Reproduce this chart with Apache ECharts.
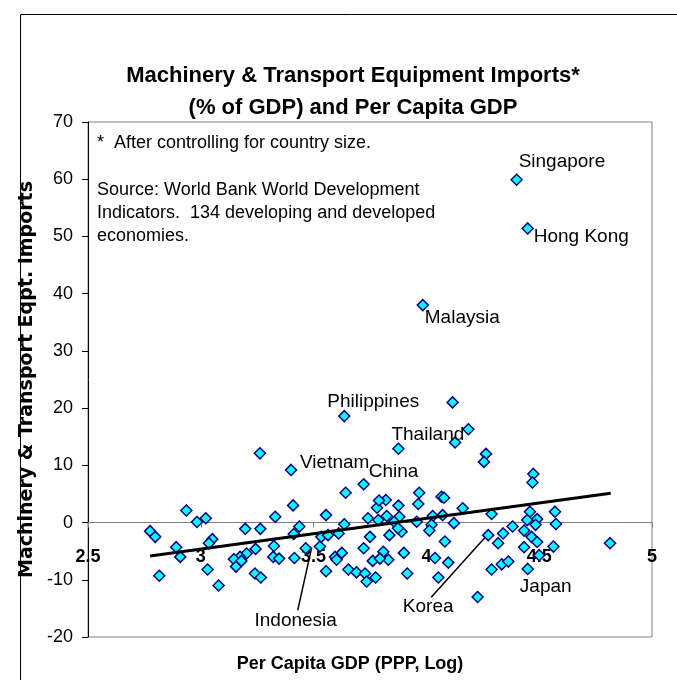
<!DOCTYPE html>
<html><head><meta charset="utf-8">
<script src="https://cdn.jsdelivr.net/npm/echarts@6/dist/echarts.min.js"></script>
<style>html,body{margin:0;padding:0;background:#fff}#c{width:677px;height:680px}</style>
</head><body><div id="c"></div>
<script>
// ---- Data ----
const countryNames = ['Singapore','Hong Kong','Malaysia','Philippines','Thailand','Vietnam','China','Indonesia','Korea','Japan'];
const countryGdpLog = [4.40, 4.449, 3.984, 3.636, 3.876, 3.40, 3.722, 3.465, 4.274, 4.449];
const countryImports = [59.9, 51.4, 38.0, 18.6, 12.9, 9.2, 6.7, -4.5, -2.2, -8.1];

const otherGdpLog = [
 3.262,3.642,2.936,2.983,3.022,3.33,3.409,3.555,3.636,3.741,3.781,2.775,2.798,3.197,3.264,3.437,3.412,3.051,3.036,2.891,
 2.909,3.324,3.243,3.203,3.174,3.147,3.156,3.18,3.321,3.347,3.415,3.528,3.534,3.564,3.611,3.625,3.595,3.602,3.555,3.654,
 3.69,3.728,3.735,3.775,3.722,3.75,3.762,2.816,3.03,3.079,3.24,3.266,4.116,4.186,4.127,4.264,4.255,3.82,3.876,3.968,
 3.964,4.067,4.078,4.161,3.824,3.88,3.957,4.028,4.072,4.023,4.013,4.122,4.289,3.836,3.89,4.082,4.318,4.34,4.382,3.809,
 3.831,3.9,4.038,4.097,3.915,4.053,4.289,4.334,4.363,4.227,4.474,4.47,4.459,4.447,4.491,4.57,4.574,4.484,4.433,4.466,
 4.491,4.433,4.563,4.5,4.814,3.79,3.787,3.857,3.874,3.794
];
const otherImports = [
 12.1,5.2,2.1,0.1,0.75,1.0,3.0,1.3,-0.3,0.75,2.6,-1.5,-2.5,-1.1,-1.1,-0.7,-2.0,-2.9,-3.6,-4.3,
 -6.0,-4.1,-4.6,-5.4,-6.0,-6.4,-7.7,-6.7,-6.0,-6.3,-6.2,-4.2,-2.5,-2.2,-1.9,-5.3,-6.0,-6.5,-8.5,-8.2,
 -8.7,-8.9,-10.3,-9.6,-4.5,-2.5,-6.7,-9.3,-8.2,-11.0,-8.9,-9.6,21.0,16.3,14.0,12.0,10.6,3.95,2.96,5.2,
 3.25,4.5,4.35,2.5,1.15,1.0,0.15,1.15,1.3,-0.4,-1.4,-0.1,1.5,-2.2,-1.6,-3.3,-3.6,-1.9,-0.7,-5.1,
 -6.5,-5.3,-6.2,-7.0,-8.9,-9.6,-8.2,-7.3,-6.8,-13.0,8.5,7.0,1.9,0.45,0.6,1.9,-0.25,-0.4,-1.4,-2.5,
 -3.4,-4.3,-4.2,-5.7,-3.6,3.86,0.45,0.15,-1.0,-6.3
];
const trendGdpLog = [2.775, 4.817];
const trendImports = [-5.85, 5.12];
const xTicks = {min: 2.5, max: 5, step: 0.5};
const yTicks = {min: -20, max: 70, step: 10};

// ---- Styles ----
const FONT = '"Liberation Sans", Arial, sans-serif';
const labelStyle = {
  'Singapore':   {offset:[2,-18], align:'left'},
  'Hong Kong':   {offset:[6,8], align:'left'},
  'Malaysia':    {offset:[2,13], align:'left'},
  'Philippines': {offset:[29,-14], align:'center'},
  'Thailand':    {offset:[-7,-14], align:'left'},
  'Vietnam':     {offset:[9,-7], align:'left'},
  'China':       {offset:[5,-12], align:'left'},
  'Indonesia':   {offset:[-10,72], align:'center'},
  'Korea':       {offset:[-60,72], align:'center'},
  'Japan':       {offset:[18,18], align:'center'}
};
const leaderStyle = {
  'Indonesia': {from:[6,-1], to:[-8,62]},
  'Korea':     {from:[-3,2], to:[-57,62]}
};

const pointData = [];
countryNames.forEach((n,i)=>{
  const ls = labelStyle[n];
  pointData.push({name:n, value:[countryGdpLog[i], countryImports[i]],
    label:{show:true, formatter:n, position:'inside', offset:ls.offset, align:ls.align, verticalAlign:'middle',
      fontFamily:FONT, fontSize:19, color:'#000'}});
});
otherGdpLog.forEach((x,i)=>pointData.push({value:[x, otherImports[i]]}));

const chart = echarts.init(document.getElementById('c'));
const staticGraphics = [
  {type:'rect', shape:{x:20.5, y:14.5, width:700, height:700}, style:{fill:'none', stroke:'#000', lineWidth:1}, silent:true},
  {type:'text', x:97, y:143, style:{text:'*  After controlling for country size.', font:'18px '+FONT, fill:'#000', verticalAlign:'middle'}},
  {type:'text', x:97, y:178.5, style:{text:'Source: World Bank World Development\nIndicators.  134 developing and developed\neconomies.', font:'18px '+FONT, fill:'#000', lineHeight:23, verticalAlign:'top'}}
];
chart.setOption({
  animation:false,
  title:{text:'Machinery & Transport Equipment Imports*\n(% of GDP) and Per Capita GDP', left:348, top:55, textAlign:'center',
    textStyle:{fontFamily:FONT, fontSize:22, fontWeight:'bold', color:'#000', lineHeight:32}},
  grid:{left:88, top:122, right:25, bottom:43, show:true, borderColor:'#808080', borderWidth:1, outerBoundsMode:'none', containLabel:false},
  xAxis:{type:'value', min:xTicks.min, max:xTicks.max, interval:xTicks.step,
    name:'Per Capita GDP (PPP, Log)', nameLocation:'middle', nameGap:18,
    nameTextStyle:{fontFamily:FONT, fontSize:18, fontWeight:'bold', color:'#000', padding:[0,40,0,0]},
    axisLine:{onZero:true, lineStyle:{color:'#808080', width:1}},
    axisTick:{show:true, length:5, lineStyle:{color:'#808080'}},
    axisLabel:{fontFamily:FONT, fontSize:18, fontWeight:'bold', color:'#000', margin:-89, showMinLabel:true, showMaxLabel:true},
    splitLine:{show:false}},
  yAxis:{type:'value', min:yTicks.min, max:yTicks.max, interval:yTicks.step,
    name:'Machinery & Transport Eqpt. Imports', nameLocation:'middle', nameGap:51, nameRotate:90,
    nameTextStyle:{fontFamily:'"DejaVu Sans", sans-serif', fontSize:19, fontWeight:'bold', color:'#000'},
    axisLine:{show:true, onZero:false, lineStyle:{color:'#000', width:1}},
    axisTick:{show:true, length:6, lineStyle:{color:'#000'}},
    axisLabel:{fontFamily:FONT, fontSize:18, color:'#000', margin:15},
    splitLine:{show:false}},
  series:[
    {type:'scatter', symbol:'diamond', symbolSize:11, z:2,
      itemStyle:{color:'#00FFFF', borderColor:'#000080', borderWidth:1.5, opacity:1},
      data:pointData},
    {type:'line', z:3, symbol:'none', lineStyle:{color:'#000', width:3}, silent:true,
      data:trendGdpLog.map((x,i)=>[x, trendImports[i]])}
  ],
  graphic:staticGraphics
});
const leaders = [];
Object.keys(leaderStyle).forEach(n=>{
  const i = countryNames.indexOf(n);
  const p = chart.convertToPixel({seriesIndex:0}, [countryGdpLog[i], countryImports[i]]);
  const s = leaderStyle[n];
  leaders.push({type:'line', shape:{x1:p[0]+s.from[0], y1:p[1]+s.from[1], x2:p[0]+s.to[0], y2:p[1]+s.to[1]},
    style:{stroke:'#000', lineWidth:1.5}, silent:true});
});
chart.setOption({graphic: staticGraphics.concat(leaders)});
</script></body></html>
